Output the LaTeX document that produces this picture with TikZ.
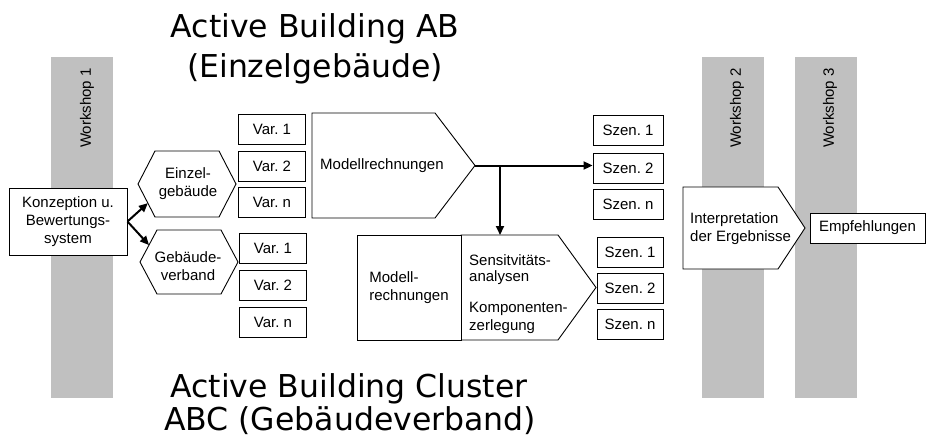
\documentclass[tikz,border=0pt]{standalone}
\usepackage{fontspec}
\setmainfont{Liberation Sans}
\newfontfamily\titlefont{DejaVu Sans}
\usetikzlibrary{arrows.meta,calc}
\definecolor{bargray}{HTML}{C0C0C0}
\newcommand\dfont{\fontsize{15}{18}\selectfont}
\begin{document}
\begin{tikzpicture}[x=1pt,y=-1pt,
  bar/.style={fill=bargray,draw=none,inner sep=0,minimum width=62,minimum height=341},
  wslabel/.style={rotate=90,anchor=east,font=\dfont,inner sep=0},
  box/.style={draw,line width=0.9pt,fill=white,font=\dfont,align=center,inner sep=0},
  varbox/.style={box,minimum width=67,minimum height=30},
  szenbox/.style={box,minimum width=70,minimum height=30},
  txt/.style={font=\dfont,align=left,inner sep=0},
  outline/.style={draw,line width=0.9pt,fill=white,line join=miter},
  flow/.style={line width=2pt,-{Triangle[length=9pt,width=8pt]}},
  title/.style={font=\titlefont\fontsize{31.5}{38}\selectfont,anchor=base,inner sep=0}]
\useasboundingbox (0,0) rectangle (926,441);

% workshop bars
\node[bar] (ws1) at (81.5,227.5) {};
\node[bar] (ws2) at (732.5,227.5) {};
\node[bar] (ws3) at (825.5,227.5) {};
\node[wslabel] (ws1l) at (87,68) {Workshop 1};
\node[wslabel] (ws2l) at (737,68) {Workshop 2};
\node[wslabel] (ws3l) at (830,68) {Workshop 3};

% titles
\node[title] (t1a) at (315,38) {Active Building AB};
\node[title] (t1b) at (315,78) {(Einzelgebäude)};
\node[title] (t2a) at (349,397) {Active Building Cluster};
\node[title] (t2b) at (350,430) {ABC (Gebäudeverband)};

% Konzeption
\node[box,minimum width=118,minimum height=67] (konz) at (68,221.5) {Konzeption u.\\Bewertungs-\\system};

% hexagons
\coordinate (eW) at (138,184);
\coordinate (eNW) at (155,151);
\coordinate (eNE) at (219,151);
\coordinate (eE) at (236,184);
\coordinate (eSE) at (219,217);
\coordinate (eSW) at (155,217);
\draw[outline] (eW) -- (eNW) -- (eNE) -- (eE) -- (eSE) -- (eSW) -- cycle;
\node[txt,align=center] (einzel) at (188,184) {Einzel-\\gebäude};

\coordinate (gW) at (140,262);
\coordinate (gNW) at (157,230);
\coordinate (gNE) at (221,230);
\coordinate (gE) at (238,262);
\coordinate (gSE) at (221,294);
\coordinate (gSW) at (157,294);
\draw[outline] (gW) -- (gNW) -- (gNE) -- (gE) -- (gSE) -- (gSW) -- cycle;
\node[txt,align=center] (gverb) at (188,266) {Gebäude-\\verband};

\coordinate (eIn) at ($(eW)!0.58!(eSW)$);
\coordinate (gIn) at ($(gW)!0.53!(gNW)$);
\draw[flow] (konz.east) -- (eIn);
\draw[flow] (konz.east) -- (gIn);

% variants
\node[varbox] (v1a) at (272,129) {Var.\ 1};
\node[varbox] (v2a) at (272,166) {Var.\ 2};
\node[varbox] (vna) at (272,202) {Var.\ n};
\node[varbox] (v1b) at (273,248) {Var.\ 1};
\node[varbox] (v2b) at (273,285) {Var.\ 2};
\node[varbox] (vnb) at (273,322) {Var.\ n};

% Modellrechnungen (upper)
\coordinate (mtip) at (475,165.5);
\draw[outline] (312,113) -- (435,113) -- (mtip) -- (435,218) -- (312,218) -- cycle;
\node[txt,anchor=west] (modell) at (320,165.5) {Modellrechnungen};

% Szenarien upper
\node[szenbox] (s1a) at (628,130) {Szen.\ 1};
\node[szenbox] (s2a) at (628,168) {Szen.\ 2};
\node[szenbox] (sna) at (628,204) {Szen.\ n};

% lower block
\coordinate (ltip) at (596,287.5);
\draw[outline] (461,235) -- (558,235) -- (ltip) -- (558,340) -- (461,340) -- cycle;
\node[box,align=left,minimum width=104,minimum height=105] (lmod) at (409,287.5) {Modell-\\rechnungen};
\node[txt,anchor=west,font=\fontsize{15}{16}\selectfont] (sens) at (469,269.5) {Sensitvitäts-\\analysen};
\node[txt,anchor=west,font=\fontsize{15}{18}\selectfont] (komp) at (469,317.5) {Komponenten-\\zerlegung};

% Szenarien lower
\node[szenbox,minimum width=66] (s1b) at (630,252) {Szen.\ 1};
\node[szenbox,minimum width=66] (s2b) at (630,288) {Szen.\ 2};
\node[szenbox,minimum width=66] (snb) at (630,324) {Szen.\ n};

% flows
\coordinate (br) at (500,165.5);
\coordinate (lowtop) at (500,235);
\draw[flow] (mtip) -- (mtip -| s2a.west);
\draw[flow] (br) -- (lowtop);

% interpretation
\coordinate (itip) at (805,228);
\draw[outline] (683,187) -- (778,187) -- (itip) -- (778,269) -- (683,269) -- cycle;
\node[txt,anchor=west] (interp) at (690,229) {Interpretation\\der Ergebnisse};

% Empfehlungen
\node[box,minimum width=115,minimum height=30] (empf) at (867.5,228) {Empfehlungen};
\end{tikzpicture}
\end{document}
